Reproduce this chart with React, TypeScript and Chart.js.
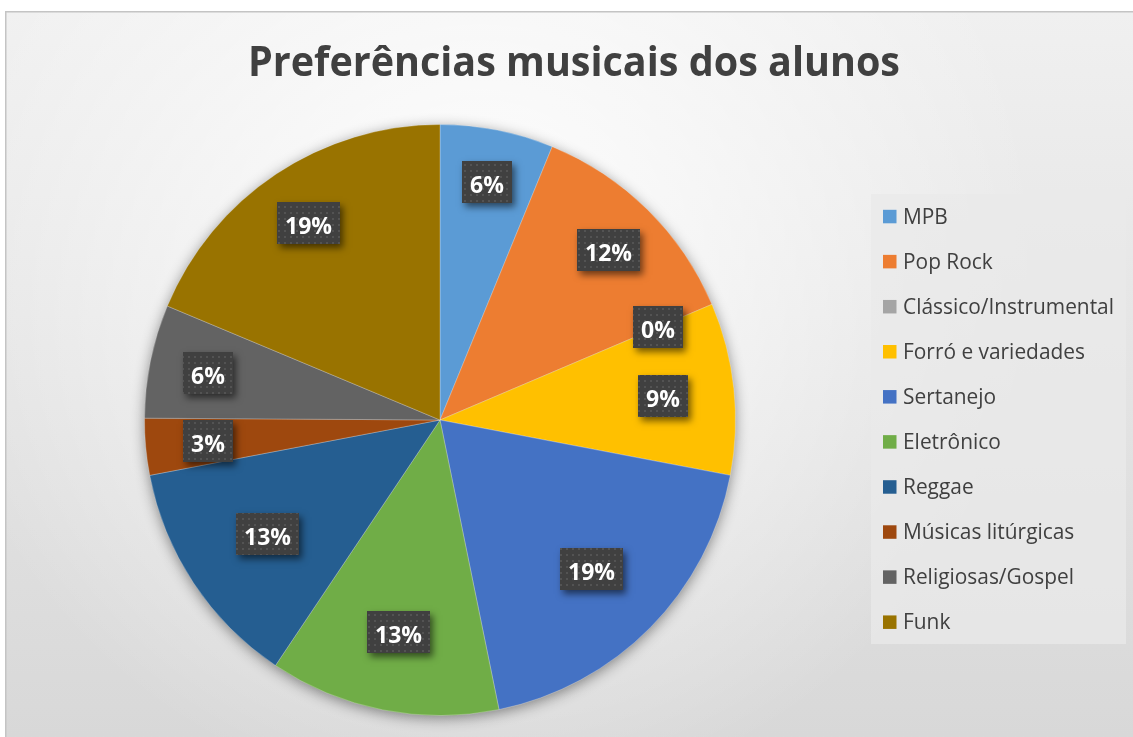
import React, { useEffect, useRef } from "react";
import { Chart, registerables } from "chart.js";

Chart.register(...registerables);

const TITLE = "Preferências musicais dos alunos";
const categories = [
  "MPB",
  "Pop Rock",
  "Clássico/Instrumental",
  "Forró e variedades",
  "Sertanejo",
  "Eletrônico",
  "Reggae",
  "Músicas litúrgicas",
  "Religiosas/Gospel",
  "Funk",
];
const shares = [6.2, 12.4, 0, 9.4, 18.8, 12.6, 12.6, 3.1, 6.2, 18.7];
const colors = [
  "#5B9BD5",
  "#ED7D31",
  "#A5A5A5",
  "#FFC000",
  "#4472C4",
  "#70AD47",
  "#255E91",
  "#9E480E",
  "#636363",
  "#997300",
];
const labelRadius = [0.82, 0.81, 0.8, 0.76, 0.72, 0.73, 0.7, 0.79, 0.8, 0.8];

const W = 1133;
const H = 737;
const FONT = "'Open Sans', 'Noto Sans', sans-serif";

function makePattern(ctx: CanvasRenderingContext2D) {
  const c = document.createElement("canvas");
  c.width = 6;
  c.height = 6;
  const p = c.getContext("2d")!;
  p.fillStyle = "rgba(255,255,255,0.10)";
  p.fillRect(2, 2, 2, 2);
  return ctx.createPattern(c, "repeat");
}

const backgroundPlugin = {
  id: "bgFrame",
  beforeDraw(chart: any) {
    const ctx: CanvasRenderingContext2D = chart.ctx;
    ctx.save();
    ctx.fillStyle = "#ffffff";
    ctx.fillRect(0, 0, W, H);
    const lg = ctx.createLinearGradient(0, 11, 0, H);
    lg.addColorStop(0, "#f0f0f0");
    lg.addColorStop(1, "#d8d8d8");
    ctx.fillStyle = lg;
    ctx.fillRect(5, 11, W, H);
    const rg = ctx.createRadialGradient(480, 250, 0, 480, 250, 560);
    rg.addColorStop(0, "rgba(255,255,255,0.95)");
    rg.addColorStop(1, "rgba(255,255,255,0)");
    ctx.fillStyle = rg;
    ctx.fillRect(5, 11, W, H);
    ctx.strokeStyle = "#c4c4c4";
    ctx.lineWidth = 1.5;
    ctx.beginPath();
    ctx.moveTo(5.75, H + 2);
    ctx.lineTo(5.75, 11.75);
    ctx.lineTo(W + 2, 11.75);
    ctx.stroke();
    ctx.restore();
  },
  beforeDatasetsDraw(chart: any) {
    const ctx: CanvasRenderingContext2D = chart.ctx;
    const el: any = chart.getDatasetMeta(0).data[0];
    if (!el) return;
    ctx.save();
    ctx.shadowColor = "rgba(0,0,0,0.45)";
    ctx.shadowBlur = 14;
    ctx.shadowOffsetY = 3;
    ctx.fillStyle = "#888888";
    ctx.beginPath();
    ctx.arc(el.x, el.y, el.outerRadius - 0.5, 0, Math.PI * 2);
    ctx.fill();
    ctx.restore();
  },
  afterDatasetsDraw(chart: any) {
    const ctx: CanvasRenderingContext2D = chart.ctx;
    const meta = chart.getDatasetMeta(0);
    const values: number[] = chart.data.datasets[0].data;
    const total = values.reduce((a, b) => a + b, 0);
    const pattern = makePattern(ctx);
    meta.data.forEach((el: any, i: number) => {
      const mid = (el.startAngle + el.endAngle) / 2;
      const r = el.outerRadius * labelRadius[i];
      const cx = el.x + Math.cos(mid) * r;
      const cy = el.y + Math.sin(mid) * r;
      const txt = Math.round((values[i] / total) * 100) + "%";
      ctx.save();
      ctx.font = `bold 23px ${FONT}`;
      const tw = ctx.measureText(txt).width;
      const bw = Math.round(tw + 16);
      const bh = 42;
      const bx = Math.round(cx - bw / 2);
      const by = Math.round(cy - bh / 2);
      ctx.save();
      ctx.shadowColor = "rgba(0,0,0,0.55)";
      ctx.shadowBlur = 7;
      ctx.shadowOffsetX = 3;
      ctx.shadowOffsetY = 4;
      ctx.fillStyle = "#404040";
      ctx.fillRect(bx, by, bw, bh);
      ctx.restore();
      if (pattern) {
        ctx.fillStyle = pattern;
        ctx.fillRect(bx, by, bw, bh);
      }
      ctx.fillStyle = "#ffffff";
      ctx.textAlign = "center";
      ctx.textBaseline = "alphabetic";
      ctx.fillText(txt, bx + bw / 2, by + bh / 2 + 10.5);
      ctx.restore();
    });
  },
  afterDraw(chart: any) {
    const ctx: CanvasRenderingContext2D = chart.ctx;
    // Title
    ctx.save();
    ctx.font = `bold 41px ${FONT}`;
    const tw = ctx.measureText(TITLE).width;
    const sx = 652 / tw;
    ctx.translate(574, 76);
    ctx.scale(sx, 1);
    ctx.fillStyle = "#404040";
    ctx.textAlign = "center";
    ctx.textBaseline = "alphabetic";
    ctx.fillText(TITLE, 0, 0);
    ctx.restore();

    // Legend
    ctx.save();
    ctx.fillStyle = "rgba(234,234,234,0.75)";
    ctx.fillRect(871, 194, 255, 450);
    ctx.font = `22px ${FONT}`;
    const longest = ctx.measureText("Clássico/Instrumental").width;
    const lsx = 211 / longest;
    const labels: string[] = chart.data.labels;
    const bg: string[] = chart.data.datasets[0].backgroundColor;
    labels.forEach((lab, i) => {
      const y = 216.5 + i * 45.07;
      ctx.fillStyle = bg[i];
      ctx.fillRect(883, y - 6.7, 13.5, 13.5);
      ctx.save();
      ctx.translate(903, y + 7);
      ctx.scale(lsx, 1);
      ctx.fillStyle = "#404040";
      ctx.textAlign = "left";
      ctx.textBaseline = "alphabetic";
      ctx.fillText(lab, 0, 0);
      ctx.restore();
    });
    ctx.restore();
  },
};

export default function App() {
  const ref = useRef<HTMLCanvasElement>(null);
  useEffect(() => {
    const chart = new Chart(ref.current!, {
      type: "pie",
      data: {
        labels: categories,
        datasets: [
          {
            data: shares,
            backgroundColor: colors,
            borderColor: "rgba(255,255,255,0.25)",
            borderWidth: 1,
            hoverOffset: 0,
          },
        ],
      },
      options: {
        responsive: false,
        animation: false,
        devicePixelRatio: 1,
        events: [],
        layout: { padding: { left: 144, right: 397, top: 124, bottom: 21 } },
        plugins: {
          legend: { display: false },
          title: { display: false },
          tooltip: { enabled: false },
        },
      },
      plugins: [backgroundPlugin],
    });
    return () => chart.destroy();
  }, []);
  return (
    <div style={{ position: "fixed", left: 0, top: 0, width: W, height: H, background: "#fff" }}>
      <canvas ref={ref} width={W} height={H} style={{ display: "block", width: W, height: H }} />
    </div>
  );
}
